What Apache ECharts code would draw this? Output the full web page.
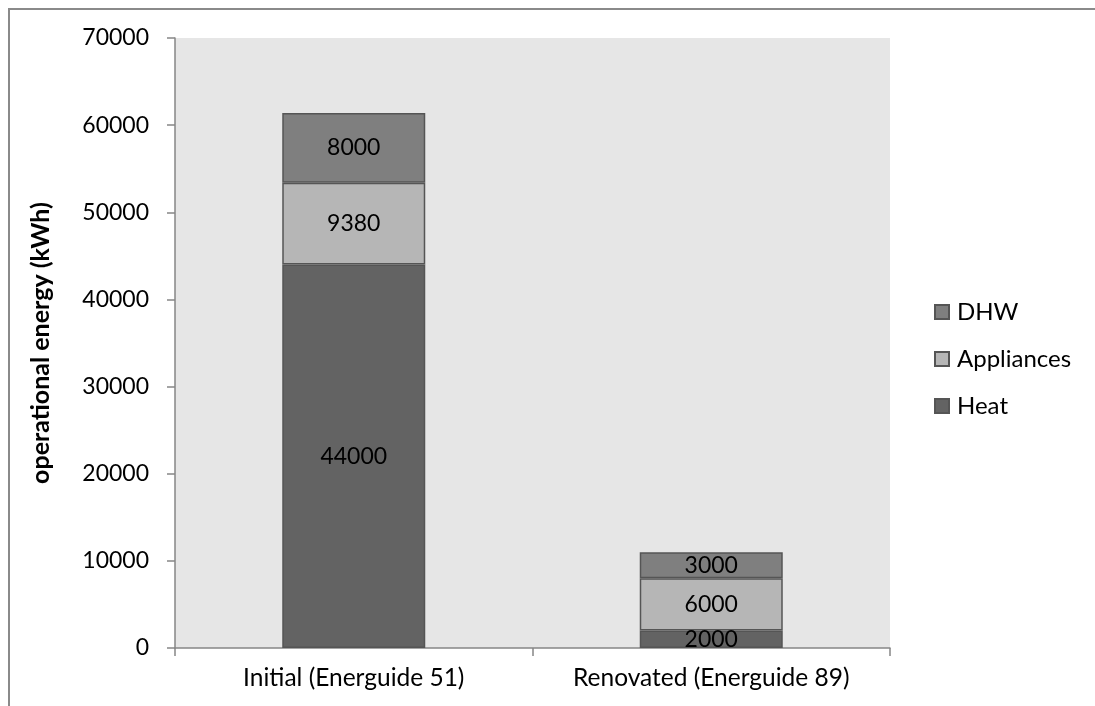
<!DOCTYPE html>
<html>
<head>
<meta charset="utf-8">
<script src="https://cdn.jsdelivr.net/npm/echarts@6/dist/echarts.min.js"></script>
<style>
  html, body { margin: 0; padding: 0; background: #fff; }
  #wrap { position: relative; width: 1095px; height: 706px; overflow: hidden; }
  #frame { position: absolute; left: 8px; top: 8px; width: 1200px; height: 800px;
           border-left: 2px solid #8a8a8a; border-top: 2px solid #8a8a8a; }
  #chart { position: absolute; left: 0; top: 0; width: 1095px; height: 706px; }
</style>
</head>
<body>
<div id="wrap">
  <div id="frame"></div>
  <div id="chart"></div>
</div>
<script>
// Building scenarios and their annual operational energy split (kWh)
const categories = ['Initial (Energuide 51)', 'Renovated (Energuide 89)'];
const heat = [44000, 2000];
const appliances = [9380, 6000];
const dhw = [8000, 3000];
const yTicks = { min: 0, max: 70000, interval: 10000 };

const font = 'Lato, "Open Sans", sans-serif';
const labelStyle = { show: true, position: 'inside', color: '#000', fontSize: 23, fontFamily: font };

function seg(name, data, color) {
  return {
    name: name,
    type: 'bar',
    stack: 'energy',
    data: data,
    barWidth: '40%',
    itemStyle: { color: color, borderColor: '#555555', borderWidth: 1.5 },
    label: labelStyle,
    emphasis: { disabled: true }
  };
}

const chart = echarts.init(document.getElementById('chart'), null, { renderer: 'canvas' });
chart.setOption({
  animation: false,
  backgroundColor: 'transparent',
  textStyle: { fontFamily: font },
  grid: {
    left: 175, right: 205, top: 38, bottom: 58,
    show: true, backgroundColor: '#e6e6e6', borderWidth: 0
  },
  legend: {
    orient: 'vertical',
    left: 929,
    top: 295,
    itemWidth: 14,
    itemHeight: 14,
    itemGap: 23,
    icon: 'rect',
    data: ['DHW', 'Appliances', 'Heat'],
    textStyle: { fontSize: 24, lineHeight: 24, color: '#000', fontFamily: font, padding: [0, 0, 0, 3] }
  },
  xAxis: {
    type: 'category',
    data: categories,
    axisLine: { lineStyle: { color: '#868686', width: 1.5 } },
    axisTick: { show: true, length: 8, lineStyle: { color: '#868686', width: 1.5 } },
    axisLabel: { color: '#000', fontSize: 24.5, fontFamily: font, margin: 18, interval: 0, hideOverlap: false }
  },
  yAxis: {
    type: 'value',
    min: yTicks.min,
    max: yTicks.max,
    interval: yTicks.interval,
    name: 'operational energy (kWh)',
    nameLocation: 'middle',
    nameGap: 122,
    nameTextStyle: { color: '#000', fontSize: 25, fontWeight: 'bold', fontFamily: font },
    axisLine: { show: true, lineStyle: { color: '#868686', width: 1.5 } },
    axisTick: { show: true, length: 8, lineStyle: { color: '#868686', width: 1.5 } },
    splitLine: { show: false },
    axisLabel: { color: '#000', fontSize: 23, fontFamily: font, margin: 26, formatter: function (v) { return String(v); } }
  },
  series: [
    seg('Heat', heat, '#636363'),
    seg('Appliances', appliances, '#b6b6b6'),
    seg('DHW', dhw, '#7f7f7f')
  ]
});
</script>
</body>
</html>
